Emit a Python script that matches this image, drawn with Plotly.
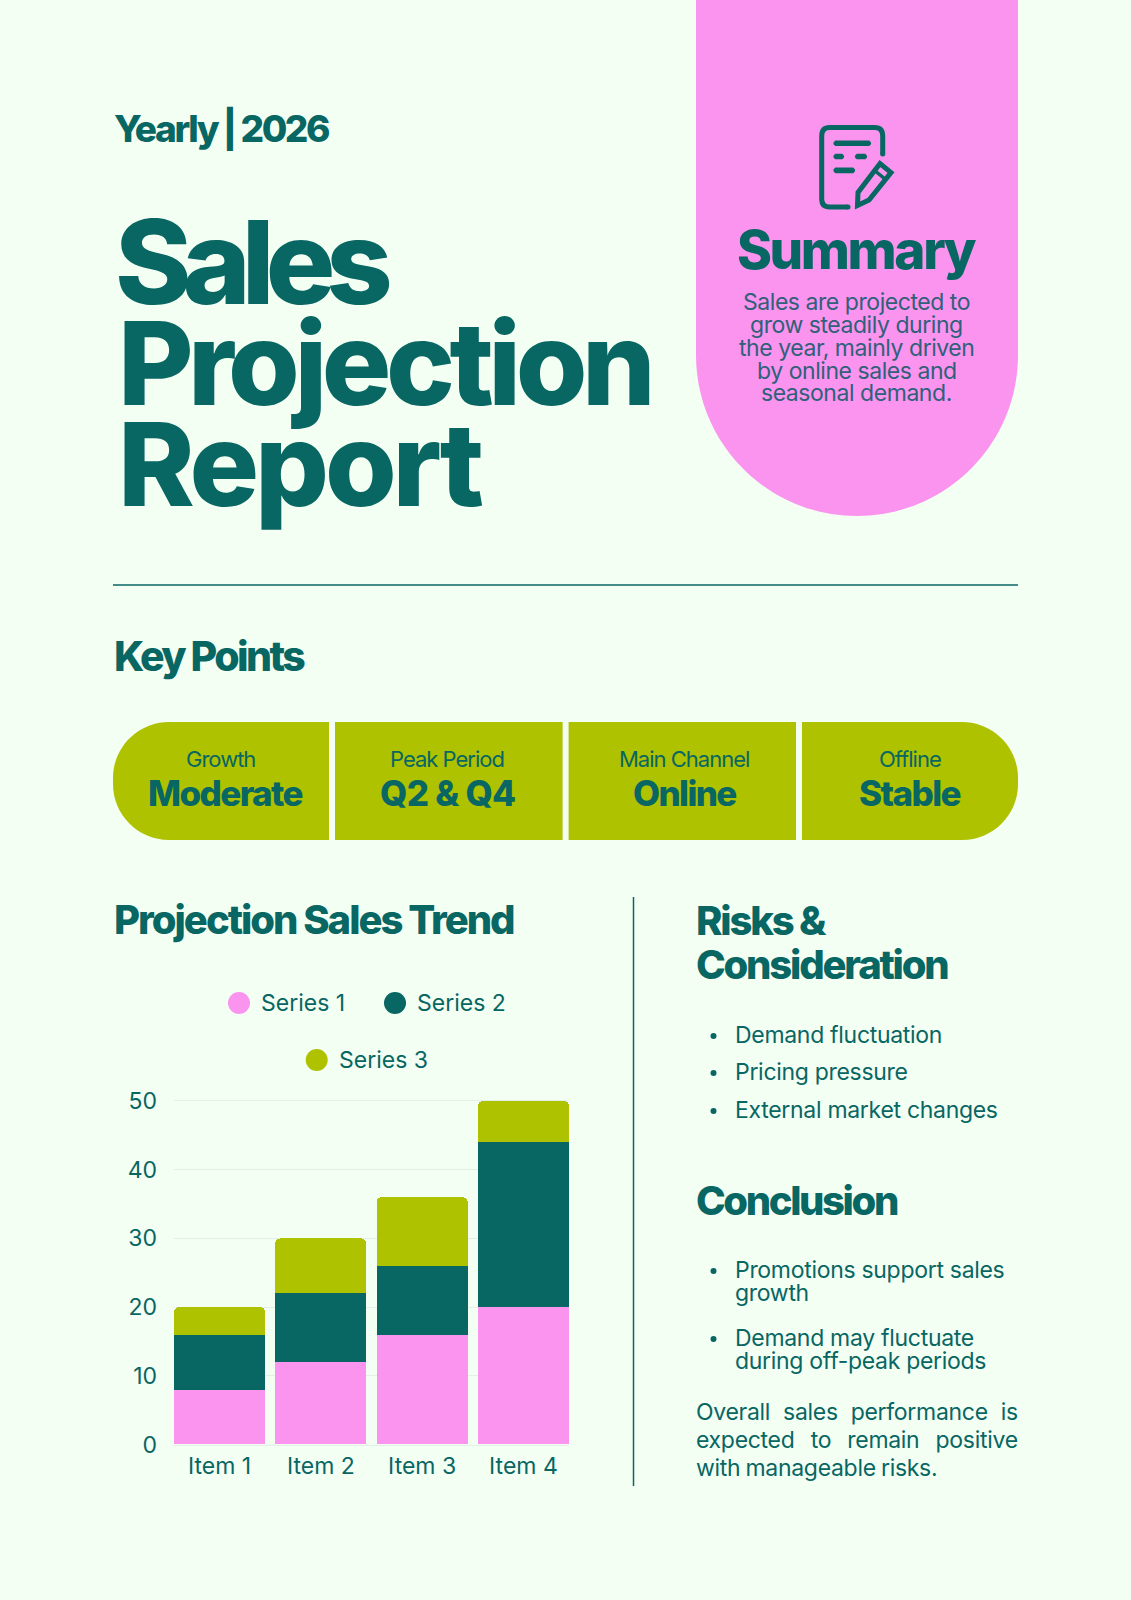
import plotly.graph_objects as go

W, H = 1131, 1600
BG = '#F4FFF3'
TEAL = '#086663'
PINK = '#FA94EE'
LIME = '#AEC200'
SUMMARY_TEXT = '#30607A'

items = ['Item 1', 'Item 2', 'Item 3', 'Item 4']
series_names = ['Series 1', 'Series 2', 'Series 3']
series_1 = [8, 12, 16, 20]
series_2 = [8, 10, 10, 24]
series_3 = [4, 8, 10, 6]
y_ticks = [0, 10, 20, 30, 40, 50]

key_labels = ['Growth', 'Peak Period', 'Main Channel', 'Offline']
key_values = ['Moderate', 'Q2 &amp; Q4', 'Online', 'Stable']
summary_lines = ['Sales are projected to', 'grow steadily during', 'the year, mainly driven',
                 'by online sales and', 'seasonal demand.']
risks = ['Demand fluctuation', 'Pricing pressure', 'External market changes']
conclusions = [['Promotions support sales', 'growth'], ['Demand may fluctuate', 'during off-peak periods']]
closing_lines = ['Overall sales performance is', 'expected to remain positive', 'with manageable risks.']

FONT = 'Inter'
annotations = []
shapes = []


def px(x):
    return x / W


def py(y):
    return 1 - y / H


# text placed by its baseline, in page pixels
def label(x, base, text, size, weight=400, color=TEAL, anchor='left', spacing=0, word=0):
    style = f'letter-spacing:{spacing}px;word-spacing:{word}px'
    annotations.append(dict(
        x=px(x), y=py(base - 0.365 * size), xref='paper', yref='paper',
        xanchor=anchor, yanchor='middle', showarrow=False, borderpad=0,
        text=f'<span style="{style}">{text}</span>',
        font=dict(family=FONT, size=size, color=color, weight=weight),
    ))


# path given in page pixels, list of (command, x, y, ...) tuples
def path(cmds):
    out = []
    for c in cmds:
        pts = c[1:]
        s = c[0]
        for i in range(0, len(pts), 2):
            s += f' {px(pts[i]):.5f},{py(pts[i + 1]):.5f}'
        out.append(s)
    return ' '.join(out)


def add_path(cmds, fill=None, line=None, width=0, close=False):
    d = path(cmds) + (' Z' if close else '')
    shapes.append(dict(type='path', path=d, xref='paper', yref='paper', layer='below',
                       fillcolor=fill or 'rgba(0,0,0,0)',
                       line=dict(color=line or 'rgba(0,0,0,0)', width=width)))


def add_line(x0, y0, x1, y1, width=1.5, color=TEAL):
    shapes.append(dict(type='line', xref='paper', yref='paper', x0=px(x0), y0=py(y0), x1=px(x1), y1=py(y1),
                       line=dict(color=color, width=width)))


def add_dot(cx, cy, r, color):
    shapes.append(dict(type='circle', xref='paper', yref='paper', fillcolor=color, line=dict(width=0),
                       x0=px(cx - r), x1=px(cx + r), y0=py(cy + r), y1=py(cy - r)))


# horizontal stroke with round ends
def add_pill(x0, x1, y, t=2.8):
    add_path([('M', x0 + t, y - t), ('L', x1 - t, y - t), ('Q', x1 + t * 0.4, y, x1 - t, y + t),
              ('L', x0 + t, y + t), ('Q', x0 - t * 0.4, y, x0 + t, y - t)], fill=TEAL, close=True)


# pink summary panel
k = 0.5523
left, right, cx, r, straight = 696, 1018, 857, 161, 355
add_path([('M', left, 0), ('L', right, 0), ('L', right, straight),
          ('C', right, straight + k * r, cx + k * r, straight + r, cx, straight + r),
          ('C', cx - k * r, straight + r, left, straight + k * r, left, straight)], fill=PINK, close=True)

# document and pencil icon
add_path([('M', 882.7, 154), ('L', 882.7, 136), ('Q', 882.7, 127.5, 874.7, 127.5), ('L', 829.7, 127.5),
          ('Q', 821.7, 127.5, 821.7, 136), ('L', 821.7, 199), ('Q', 821.7, 207, 829.7, 207), ('L', 848, 207)],
         line=TEAL, width=5)
add_dot(882.7, 154, 2.5, TEAL)
add_dot(848, 207, 2.5, TEAL)
for x0, x1, y in [(832.5, 872, 143.3), (832.5, 845, 156.5), (854, 868, 156.5), (832.5, 856, 170.4)]:
    add_pill(x0, x1, y)
add_path([('M', 857.5, 205.5), ('L', 858, 192.5), ('L', 880, 163.5), ('L', 891, 172.5), ('L', 869, 200)],
         line=TEAL, width=5, close=True)
add_line(874, 170, 885, 179, width=3.5)

label(113, 142, 'Yearly | 2026', 37, 800, spacing=-2.4)
label(113.5, 304, 'Sales', 116, 800, spacing=-9)
label(116.5, 405, 'Projection', 116, 800, spacing=-5.5)
label(116.5, 506, 'Report', 116, 800, spacing=-4.1)

label(857, 269, 'Summary', 53, 800, anchor='center', spacing=-2.4)
for line_text, base in zip(summary_lines, [310.5, 333, 356, 379.5, 401]):
    label(857, base, line_text, 23, 400, SUMMARY_TEXT, anchor='center', spacing=-0.45)

add_line(113, 585, 1018, 585)
label(113, 671, 'Key Points', 41, 800, spacing=-2.6)

# key point segments
top, bottom, rad = 722, 840, 56
add_path([('M', 329, top), ('L', 329, bottom), ('L', 113 + rad, bottom),
          ('C', 113 + rad - k * rad, bottom, 113, bottom - rad + k * rad, 113, bottom - rad),
          ('L', 113, top + rad),
          ('C', 113, top + rad - k * rad, 113 + rad - k * rad, top, 113 + rad, top)], fill=LIME, close=True)
for x0, x1 in [(335, 562.6), (568.6, 796)]:
    add_path([('M', x0, top), ('L', x1, top), ('L', x1, bottom), ('L', x0, bottom)], fill=LIME, close=True)
add_path([('M', 802, top), ('L', 802, bottom), ('L', 1018 - rad, bottom),
          ('C', 1018 - rad + k * rad, bottom, 1018, bottom - rad + k * rad, 1018, bottom - rad),
          ('L', 1018, top + rad),
          ('C', 1018, top + rad - k * rad, 1018 - rad + k * rad, top, 1018 - rad, top)], fill=LIME, close=True)
for name, value, x_lab, x_val, sp in zip(key_labels, key_values, [220, 447, 684, 909.6], [225, 447.5, 684, 909.6],
                                         [-1.6, -0.7, -1.6, -1.6]):
    label(x_lab, 766.6, name, 22, 400, anchor='center', spacing=-1)
    label(x_val, 805.5, value, 35, 800, anchor='center', spacing=sp)

label(113, 934, 'Projection Sales Trend', 40, 800, spacing=-2.0)
add_line(633.5, 897, 633.5, 1486)

# legend
for name, color, cx_dot, cy_dot, x_txt in zip(series_names, [PINK, TEAL, LIME], [239, 395, 316.7],
                                              [1003, 1003, 1060], [260, 416, 338]):
    add_dot(cx_dot, cy_dot, 11, color)
    label(x_txt, cy_dot + 8, name, 23, 400)

# right column
label(695, 935, 'Risks &amp;', 40, 800, spacing=-2.2)
label(695, 979, 'Consideration', 40, 800, spacing=-2.2)
for text, base in zip(risks, [1043, 1080, 1118]):
    add_dot(713.5, base - 7, 3, TEAL)
    label(734, base, text, 23, 400, spacing=-0.3)
label(695, 1215, 'Conclusion', 40, 800, spacing=-2.4)
for lines, base in zip(conclusions, [1278, 1346]):
    add_dot(713.5, base - 7, 3, TEAL)
    label(734, base, lines[0], 23, 400, spacing=-0.3)
    label(734, base + 23.5, lines[1], 23, 400, spacing=-0.3)
for line_text, base, word in zip(closing_lines, [1420, 1448, 1476], [6.8, 10, -1]):
    label(695, base, line_text, 23, 400, spacing=-0.3, word=word)

fig = go.Figure()
for name, values, color in zip(series_names, [series_1, series_2, series_3], [PINK, TEAL, LIME]):
    fig.add_trace(go.Bar(x=items, y=values, name=name, marker=dict(color=color, line=dict(width=0))))

fig.update_layout(
    width=W, height=H, margin=dict(l=0, r=0, t=0, b=0, autoexpand=False), autosize=False,
    paper_bgcolor=BG, plot_bgcolor=BG,
    barmode='stack', bargap=0.1, barcornerradius=5, showlegend=False,
    font=dict(family=FONT, color=TEAL),
    annotations=annotations, shapes=shapes,
    xaxis=dict(domain=[px(174), px(569)], range=[-0.45, 3.45], type='category', showgrid=False,
               showline=True, linecolor='#E3F0E8', linewidth=1, zeroline=False, ticks='',
               tickfont=dict(family=FONT, size=23, color=TEAL), ticklabelstandoff=1),
    # a little headroom above 50 so plotly keeps the top gridline
    yaxis=dict(domain=[py(1444.5), py(1099.626)], range=[0, 50.2], tickvals=y_ticks, showgrid=True,
               gridcolor='#E3F0E8', gridwidth=1, zeroline=False, showline=False, ticks='',
               tickfont=dict(family=FONT, size=23, color=TEAL), ticklabelstandoff=16),
)

fig.write_html('out.html', config={'displayModeBar': False}, post_script="document.body.style.margin='0';")
